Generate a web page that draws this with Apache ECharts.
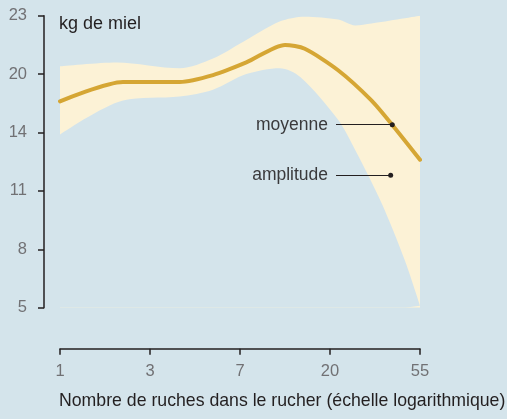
<!DOCTYPE html>
<html>
<head>
<meta charset="utf-8">
<script src="https://cdn.jsdelivr.net/npm/echarts@6/dist/echarts.min.js"></script>
<style>
  html, body { margin: 0; padding: 0; background: #d4e4eb; }
  #chart { width: 507px; height: 419px; }
</style>
</head>
<body>
<div id="chart"></div>
<script>
    // tick labels (both axes are evenly spaced, whatever the printed value)
    const xLabels = ['1', '3', '7', '20', '55'];
    const yLabels = [5, 8, 11, 14, 20, 23];

    // mean honey yield (kg), x in axis positions (0 = "1", 4 = "55")
    const meanX = [0, 0.70, 1.0, 1.33, 1.70, 2.07, 2.5, 2.72, 3.09, 3.46, 3.69, 4.0];
    const meanKg = [17.2, 19.2, 19.2, 19.2, 19.9, 20.6, 21.5, 21.3, 20.2, 17.3, 14.8, 12.6];

    // amplitude band, upper and lower edges
    const upperX = [0, 0.63, 1.33, 1.70, 2.07, 2.44, 2.72, 3.09, 3.28, 3.46, 4.0];
    const upperKg = [20.4, 20.6, 20.3, 20.8, 21.75, 22.7, 22.95, 22.8, 22.5, 22.6, 23.0];
    const lowerX = [0, 0.70, 1.33, 1.70, 2.07, 2.44, 2.67, 3.09, 3.28, 3.57, 3.83, 4.0];
    const lowerKg = [13.9, 17.3, 17.7, 18.4, 20.0, 20.3, 19.7, 15.3, 13.1, 10.4, 7.45, 5.1];

    // annotation pointers: [label, xStart, xEnd, kg]
    const notes = [
        ['moyenne', 3.067, 3.692, 14.8],
        ['amplitude', 3.067, 3.674, 11.8],
    ];

    const font = "'Liberation Sans', Arial, sans-serif";
    const bg = '#d4e4eb';

    // the printed y scale is piecewise: map kg to its even tick position
    const kgToPos = (v) => {
        for (let i = 0; i < yLabels.length - 1; i++) {
            if (v <= yLabels[i + 1]) {
                return i + (v - yLabels[i]) / (yLabels[i + 1] - yLabels[i]);
            }
        }
        return yLabels.length - 1;
    };
    const pairs = (xs, kgs) => xs.map((x, i) => [x, kgToPos(kgs[i])]);

    const chart = echarts.init(document.getElementById('chart'));
    chart.setOption({
        backgroundColor: bg,
        animation: false,
        title: [{
            text: 'kg de miel',
            left: 59, top: 15, padding: 0,
            textStyle: { fontFamily: font, fontSize: 18, fontWeight: 'normal', color: '#231f20' }
        }, {
            text: 'Nombre de ruches dans le rucher (échelle logarithmique)',
            left: 59, top: 392, padding: 0,
            textStyle: { fontFamily: font, fontSize: 17.7, fontWeight: 'normal', color: '#231f20' }
        }],
        grid: { left: 60, right: 87, top: 15.7, bottom: 111.3 },
        xAxis: {
            type: 'value', min: 0, max: 4, interval: 1,
            offset: 41,
            axisLine: { onZero: false, lineStyle: { color: '#231f20', width: 1.5 } },
            axisTick: { length: 6, lineStyle: { color: '#231f20', width: 1.5 } },
            axisLabel: {
                margin: 14, fontFamily: font, fontSize: 16.5, color: '#717174',
                formatter: (v) => xLabels[v] || ''
            },
            splitLine: { show: false }
        },
        yAxis: {
            type: 'value', min: 0, max: 5, interval: 1,
            offset: 16,
            axisLine: { show: true, onZero: false, lineStyle: { color: '#231f20', width: 1.5 } },
            axisTick: { show: true, length: 6, lineStyle: { color: '#231f20', width: 1.5 } },
            axisLabel: {
                margin: 17, fontFamily: font, fontSize: 16.5, color: '#717174',
                formatter: (v) => String(yLabels[v])
            },
            splitLine: { show: false }
        },
        series: [{
            type: 'line',
            data: pairs(upperX, upperKg),
            smooth: 0.3,
            symbol: 'none',
            lineStyle: { width: 0 },
            areaStyle: { color: '#fcf2d6', opacity: 1, origin: 'start' },
            silent: true
        }, {
            type: 'line',
            data: pairs(lowerX, lowerKg),
            smooth: 0.3,
            symbol: 'none',
            lineStyle: { width: 0 },
            areaStyle: { color: bg, opacity: 1, origin: 'start' },
            silent: true
        }, {
            type: 'line',
            data: pairs(meanX, meanKg),
            smooth: 0.25,
            symbol: 'none',
            lineStyle: { color: '#d5a634', width: 4, cap: 'round' },
            markLine: {
                silent: true,
                symbol: ['none', 'circle'],
                symbolSize: 5,
                lineStyle: { color: '#231f20', width: 1, type: 'solid' },
                label: {
                    position: 'start', distance: 8, formatter: '{b}',
                    fontFamily: font, fontSize: 17.5, color: '#3a3a3c'
                },
                data: notes.map(([name, x1, x2, kg]) => [
                    { name, coord: [x1, kgToPos(kg)] },
                    { coord: [x2, kgToPos(kg)] }
                ])
            }
        }]
    });
</script>
</body>
</html>
